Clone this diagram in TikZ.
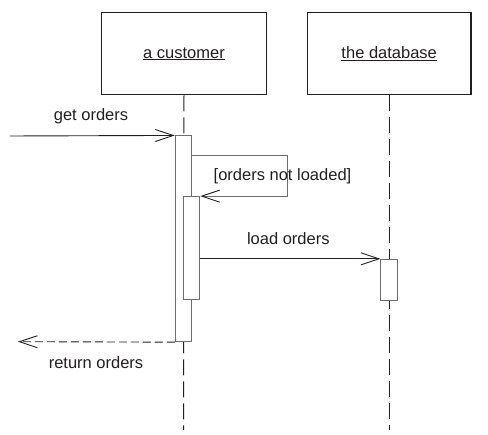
\documentclass[tikz,border=0pt]{standalone}
\usepackage{fontspec}
\setmainfont{Liberation Sans}
\usepackage{xcolor}
\usepackage{tikz}
\usetikzlibrary{arrows.meta,positioning,calc}
\definecolor{ink}{HTML}{231F20}
\definecolor{actgray}{HTML}{6E6E6E}
\tikzset{
  % object heads and activation bars
  obj/.style   = {rectangle, draw=ink, line width=1.1pt, fill=white, minimum height=82pt,
                  inner sep=0pt, font=\fontsize{16.5}{19}\selectfont, text=ink},
  act/.style   = {rectangle, draw=actgray, line width=1pt, fill=white, minimum width=16.5pt,
                  inner sep=0pt},
  life/.style  = {ink, line width=1pt, dash pattern=on 16pt off 6pt},
  msg/.style   = {ink, line width=0.9pt, -{Straight Barb[length=18pt,width=12pt,line width=0.9pt]}},
  self/.style  = {actgray, line width=0.9pt, -{Straight Barb[length=18pt,width=12pt,line width=0.9pt,ink]}},
  ret/.style   = {ink, line width=0.9pt, dash pattern=on 8pt off 4pt,
                  -{Straight Barb[length=18pt,width=12pt,line width=0.9pt]}},
  lbl/.style   = {font=\fontsize{16.5}{19}\selectfont, text=ink, inner sep=0pt},
}

\begin{document}
\begin{tikzpicture}[x=1pt,y=-1pt]
\useasboundingbox (0,0) rectangle (488,435);
% object heads
\node[obj, minimum width=165pt]   (cust) at (184,53.8)  {\underline{a customer}};
\node[obj, minimum width=163.5pt] (db)   at (389.2,53.8) {\underline{the database}};
\coordinate (custend) at (183.5,430);
\coordinate (dbend)   at (389.2,430);
\foreach \a/\b in {cust/custend,db/dbend} {\draw[life] (\a.south) -- (\b);}

% activation bars
\node[act, minimum height=205.7pt] (act1) at (183.5,238.8) {};
\node[act, minimum height=103.3pt] (act2) at (191.5,248.3) {};
\node[act, minimum height=40.7pt]  (act3) at (389.2,279.7) {};

% messages
\coordinate (caller) at (10,136);
\coordinate (back)   at (18,341.7);
\draw[msg] (caller) -- (act1.north west);
\node[lbl] at (91,116) {get orders};
\draw[self] ([yshift=-19.7pt]act1.north east) -- ++(95,0) |- (act2.north east);
\node[lbl] (guard) at (282.5,176.5) {[orders not loaded]};
\draw[msg] (act2.east |- act3.north west) -- (act3.north west);
\node[lbl] at (288.3,238.5) {load orders};
\draw[ret] (act1.south west) -- (back);
\node[lbl] at (96,363) {return orders};
\end{tikzpicture}
\end{document}
